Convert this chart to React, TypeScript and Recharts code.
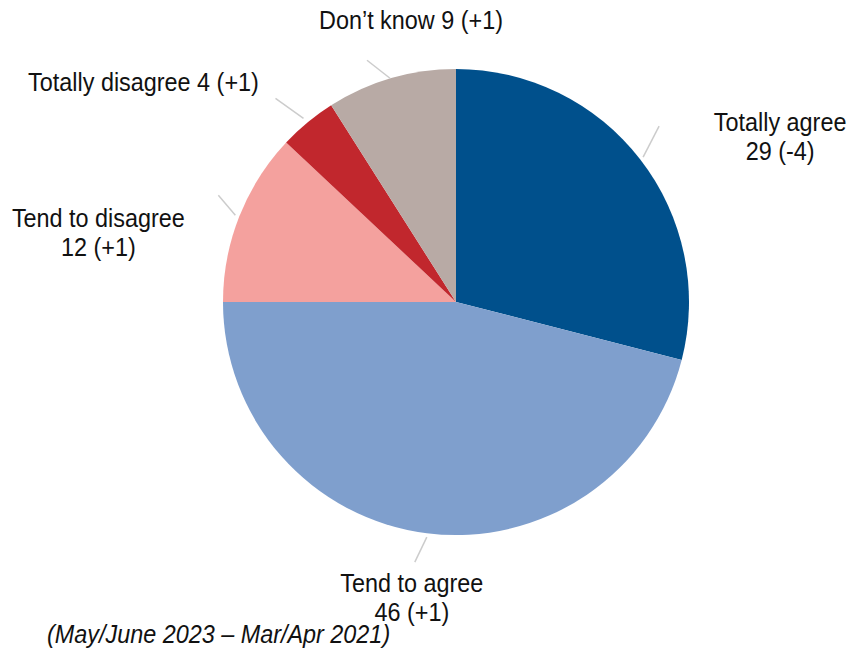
import { PieChart, Pie, Cell } from 'recharts'

const categories = ['Totally agree', 'Tend to agree', 'Tend to disagree', 'Totally disagree', 'Don’t know']
const shares = [29, 46, 12, 4, 9]
const changes = ['-4', '+1', '+1', '+1', '+1']
const footnote = '(May/June 2023 – Mar/Apr 2021)'

const colors = ['#00508c', '#7f9fcd', '#f4a19e', '#c1272d', '#b8aaa5']

// where each label sits relative to its slice's outer edge, and its leader line
const labelLayout = [
  { dx: 140, dy: -28, twoLines: true, lead: [3, -2, 19, -33] },
  { dx: -15, dy: 59, twoLines: true, lead: [0, 4, -12, 29] },
  { dx: -141, dy: 11, twoLines: true, lead: [-4, -1, -21, -21] },
  { dx: -164, dy: -31, twoLines: false, lead: [-4, -4, -32, -24] },
  { dx: 20, dy: -49, twoLines: false, lead: [-1, 0, -24, -18] },
]

const data = categories.map((name, i) => ({ name, value: shares[i], change: changes[i] }))

const RADIAN = Math.PI / 180
const FONT = 'Liberation Sans, Arial, sans-serif'

function renderLabel(props: any) {
  const { cx, cy, midAngle, outerRadius, index } = props
  const ex = cx + outerRadius * Math.cos(-midAngle * RADIAN)
  const ey = cy + outerRadius * Math.sin(-midAngle * RADIAN)
  const lay = labelLayout[index]
  const d = data[index]
  const x = ex + lay.dx
  const y = ey + lay.dy
  const lines = lay.twoLines
    ? [d.name, `${d.value} (${d.change})`]
    : [`${d.name} ${d.value} (${d.change})`]
  return (
    <g key={`lbl-${index}`}>
      <line
        x1={ex + lay.lead[0]}
        y1={ey + lay.lead[1]}
        x2={ex + lay.lead[2]}
        y2={ey + lay.lead[3]}
        stroke="#cccccc"
        strokeWidth={1.5}
      />
      <g transform={`translate(${x},${y}) scale(0.9,1)`}>
        {lines.map((t, i) => (
          <text key={i} x={0} y={i * 28.5} textAnchor="middle" fontSize={26} fontFamily={FONT} fill="#111">
            {t}
          </text>
        ))}
      </g>
    </g>
  )
}

export default function App() {
  return (
    <div style={{ position: 'absolute', left: 0, top: 0, width: 848, height: 648, background: '#fff' }}>
      <PieChart width={848} height={648} margin={{ top: 0, right: 0, bottom: 0, left: 0 }}>
        <Pie
          data={data}
          dataKey="value"
          nameKey="name"
          cx={456}
          cy={302}
          outerRadius={233}
          startAngle={90}
          endAngle={-270}
          stroke="none"
          label={renderLabel}
          labelLine={false}
          isAnimationActive={false}
        >
          {data.map((d, i) => (
            <Cell key={d.name} fill={colors[i]} />
          ))}
        </Pie>
        <g transform="translate(47,643) scale(0.9,1)">
          <text x={0} y={0} fontSize={26} fontStyle="italic" fontFamily={FONT} fill="#111">
            {footnote}
          </text>
        </g>
      </PieChart>
    </div>
  )
}
